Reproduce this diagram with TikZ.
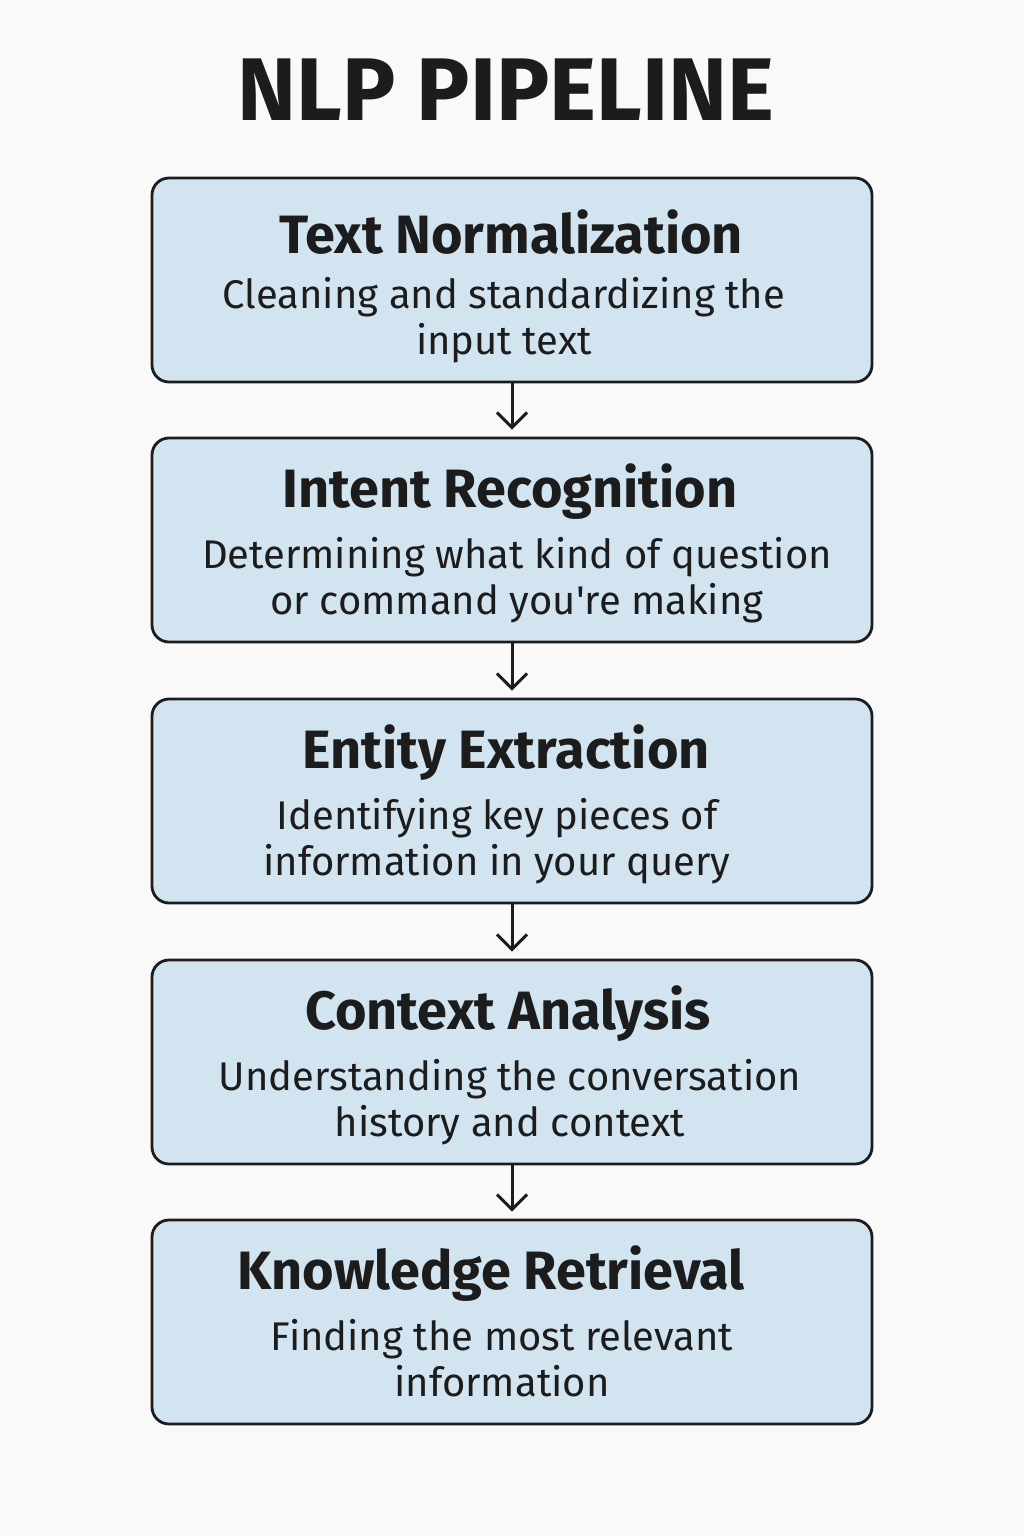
\documentclass[tikz,border=0pt]{standalone}
\usepackage{fontspec}
\setmainfont{Fira Sans}
\usetikzlibrary{arrows.meta}
\definecolor{bg}{HTML}{F9F9F9}
\definecolor{boxfill}{HTML}{D3E4F1}
\definecolor{ink}{HTML}{1C1C1C}
\begin{document}
\begin{tikzpicture}[x=1pt,y=-1pt,
  stagebox/.style={draw=ink,line width=2.8pt,fill=boxfill,rounded corners=17pt,minimum width=720pt,minimum height=204pt,inner sep=0pt},
  stagetitle/.style={font=\fontsize{54}{60}\selectfont\bfseries,text=ink,inner sep=0pt,anchor=center},
  stagedesc/.style={font=\fontsize{40}{46.5}\selectfont,text=ink,inner sep=0pt,align=center,anchor=north},
  flowarrow/.style={draw=ink,line width=3pt,-{Straight Barb[length=15pt,width=30pt,line width=3pt]},shorten >=7pt}]
\fill[bg] (0,0) rectangle (1024,1536);
\useasboundingbox (0,0) rectangle (1024,1536);
\node[font=\fontsize{89}{96}\selectfont\bfseries,text=ink,inner sep=0pt] (title) at (506,90) {NLP PIPELINE};
\foreach \i/\y in {1/280,2/540,3/801,4/1062,5/1322}{
  \node[stagebox] (b\i) at (512,\y) {};
}
\node[stagetitle] (t1) at (511,232) {Text Normalization};
\node[stagedesc] (d1) at (504,277) {Cleaning and standardizing the\\input text};
\node[stagetitle] (t2) at (510,492) {Intent Recognition};
\node[stagedesc] (d2) at (517,537) {Determining what kind of question\\or command you\textquotesingle re making};
\node[stagetitle] (t3) at (506,753) {Entity Extraction};
\node[stagedesc] (d3) at (497,798) {Identifying key pieces of\\information in your query};
\node[stagetitle] (t4) at (508,1014) {Context Analysis};
\node[stagedesc] (d4) at (510,1059) {Understanding the conversation\\history and context};
\node[stagetitle] (t5) at (491,1274) {Knowledge Retrieval};
\node[stagedesc] (d5) at (502,1319) {Finding the most relevant\\information};
\foreach \a/\b in {1/2,2/3,3/4,4/5}{
  \draw[flowarrow] (b\a.south) -- (b\b.north);
}
\end{tikzpicture}
\end{document}
